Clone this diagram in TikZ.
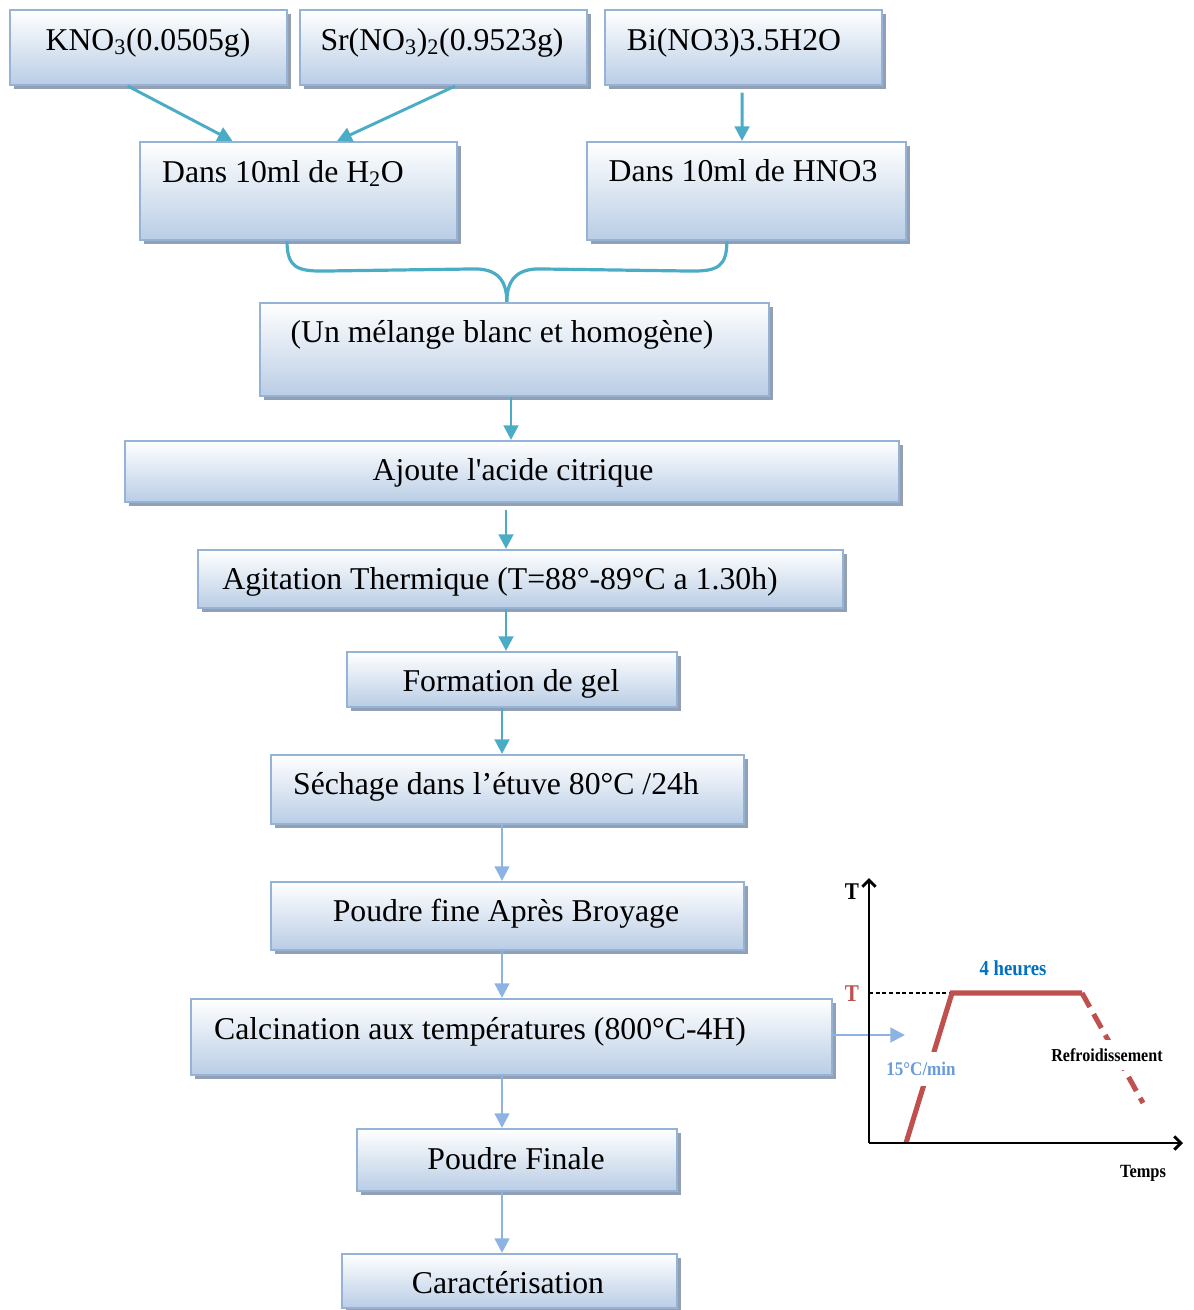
\documentclass[tikz,border=0pt]{standalone}
\usepackage{fontspec}
\setmainfont{Liberation Serif}[Ligatures=TeXOff]
\newfontfamily\condb{Liberation Serif}[FakeStretch=0.88]
\usetikzlibrary{arrows.meta,shadows,fit,calc}
\definecolor{boxblue}{HTML}{B9CDE5}
\definecolor{boxedge}{HTML}{95B3D7}
\definecolor{shadowc}{HTML}{939FB2}
\definecolor{arrteal}{HTML}{4BACC6}
\definecolor{arrlight}{HTML}{8DB3E2}
\definecolor{curvered}{HTML}{C0504D}
\definecolor{hblue}{HTML}{0070C0}
\definecolor{rateblue}{HTML}{6A9BD8}
\begin{document}
\begin{tikzpicture}[x=0.75pt,y=-0.75pt,
  box/.style={draw=boxedge,line width=1.6pt,top color=white,bottom color=boxblue,inner sep=0pt,
    drop shadow={shadow xshift=3pt,shadow yshift=-3pt,fill=shadowc,opacity=1}},
  txt/.style={font=\fontsize{23.8}{28}\selectfont,inner sep=0pt,anchor=base},
  tarr/.style={draw=arrteal,line width=2.2pt,-{Triangle[length=11pt,width=11pt]}},
  larr/.style={draw=arrlight,line width=2pt,-{Triangle[length=11pt,width=11pt]}},
  glab/.style={inner sep=1pt,fill=white}]
\useasboundingbox (0,0) rectangle (1194,1310);
% boxes
\node[box,fit={(10,10) (287,85)}] (kno) {};
\node[box,fit={(300,10) (587,85)}] (sr) {};
\node[box,fit={(605,10) (882,85)}] (bi) {};
\node[box,fit={(140,142) (457,240)}] (h2o) {};
\node[box,fit={(587,142) (906,240)}] (hno) {};
\node[box,fit={(260,303) (769,396)}] (mel) {};
\node[box,fit={(125,441) (899,502)}] (aj) {};
\node[box,fit={(198,550) (843,608)}] (agi) {};
\node[box,fit={(347,652) (677,707)}] (gel) {};
\node[box,fit={(271,755) (744,824)}] (sec) {};
\node[box,fit={(271,882) (744,950)}] (pf) {};
\node[box,fit={(191,999) (832,1075)}] (cal) {};
\node[box,fit={(357,1129) (677,1191)}] (fin) {};
\node[box,fit={(342,1254) (677,1308)}] (car) {};
% texts
\node[txt] (tkno) at (148,50) {KNO\textsubscript{3}(0.0505g)};
\node[txt] (tsr) at (442,50) {Sr(NO\textsubscript{3})\textsubscript{2}(0.9523g)};
\node[txt] (tbi) at (734,50) {Bi(NO3)3.5H2O};
\node[txt] (th2o) at (283,182) {Dans 10ml de H\textsubscript{2}O};
\node[txt] (thno) at (743,181) {Dans 10ml de HNO3};
\node[txt] (tmel) at (502,342) {(Un mélange blanc et homogène)};
\node[txt] (taj) at (513,480) {Ajoute l'acide citrique};
\node[txt] (tagi) at (500,589) {Agitation Thermique (T=88°-89°C a 1.30h)};
\node[txt] (tgel) at (511,691) {Formation de gel};
\node[txt] (tsec) at (496,794) {Séchage dans l’étuve 80°C /24h};
\node[txt] (tpf) at (506,921) {Poudre fine Après Broyage};
\node[txt] (tcal) at (480,1039) {Calcination aux températures (800°C-4H)};
\node[txt] (tfin) at (516,1169) {Poudre Finale};
\node[txt] (tcar) at (508,1293) {Caractérisation};
% connectors
\draw[tarr] ($(kno.south west)!0.426!(kno.south east)$) -- ($(h2o.north west)!0.293!(h2o.north east)$);
\draw[tarr] ($(sr.south west)!0.54!(sr.south east)$) -- ($(h2o.north west)!0.621!(h2o.north east)$);
\draw[tarr] ([yshift=-5pt]$(bi.south west)!0.495!(bi.south east)$) -- ($(hno.north west)!0.486!(hno.north east)$);
\coordinate (bl) at ($(h2o.south west)!0.464!(h2o.south east)$);
\coordinate (br) at ($(hno.south west)!0.439!(hno.south east)$);
\coordinate (bt) at ($(mel.north west)!0.485!(mel.north east)$);
\draw[draw=arrteal,line width=2.4pt] (bl) .. controls ($(bl)+(0,26)$) and ($(bl)+(10,30)$) .. ($(bl)+(35,30)$)
  -- ($(bt)+(-32,-33)$) .. controls ($(bt)+(-10,-33)$) and ($(bt)+(0,-22)$) .. (bt);
\draw[draw=arrteal,line width=2.4pt] (br) .. controls ($(br)+(0,26)$) and ($(br)+(-10,30)$) .. ($(br)+(-35,30)$)
  -- ($(bt)+(32,-33)$) .. controls ($(bt)+(10,-33)$) and ($(bt)+(0,-22)$) .. (bt);
\draw[tarr] (mel.south -| 511,0) -- (aj.north -| 511,0);
\draw[tarr] ([yshift=-5pt]aj.south -| 506,0) -- (agi.north -| 506,0);
\draw[tarr] (agi.south -| 506,0) -- (gel.north -| 506,0);
\draw[tarr] (gel.south -| 502,0) -- (sec.north -| 502,0);
\draw[larr] (sec.south -| 502,0) -- (pf.north -| 502,0);
\draw[larr] (pf.south -| 502,0) -- (cal.north -| 502,0);
\draw[larr] (cal.south -| 502,0) -- (fin.north -| 502,0);
\draw[larr] (fin.south -| 502,0) -- (car.north -| 502,0);
\coordinate (gin) at (905,1035);
\draw[larr] (cal.east |- gin) -- (gin);
% graph
\coordinate (O) at (869,1143);
\draw[line width=1pt,dash pattern=on 3pt off 2pt] (869,993) -- (952,993);
\draw[curvered,line width=3.8pt] (906,1143) -- (952,993) -- (1082,993);
\draw[curvered,line width=3.8pt,dash pattern=on 12pt off 6pt] (1082,993) -- (1143,1103);
\draw[line width=2.2pt,-{Straight Barb[length=5pt,width=10pt]}] (O) -- (869,878);
\draw[line width=2.2pt,-{Straight Barb[length=5pt,width=10pt]}] (O) -- (1183,1143);
\node[glab,font=\condb\bfseries\fontsize{18}{20}\selectfont] (lT) at (852,892) {T};
\node[glab,font=\condb\bfseries\fontsize{18}{20}\selectfont,text=curvered] (lTr) at (852,994) {T};
\node[glab,font=\condb\bfseries\fontsize{16}{19}\selectfont,text=hblue] (lh) at (1013,968) {4 heures};
\node[glab,inner ysep=8pt,inner xsep=1pt,font=\condb\bfseries\fontsize{14.5}{17}\selectfont,text=rateblue] (lr) at (921,1069) {15°C/min};
\node[glab,inner ysep=6pt,font=\condb\bfseries\fontsize{13.7}{16}\selectfont] (lref) at (1107,1055) {Refroidissement};
\node[glab,font=\condb\bfseries\fontsize{14}{17}\selectfont] (lt) at (1143,1173) {Temps};
\end{tikzpicture}
\end{document}
